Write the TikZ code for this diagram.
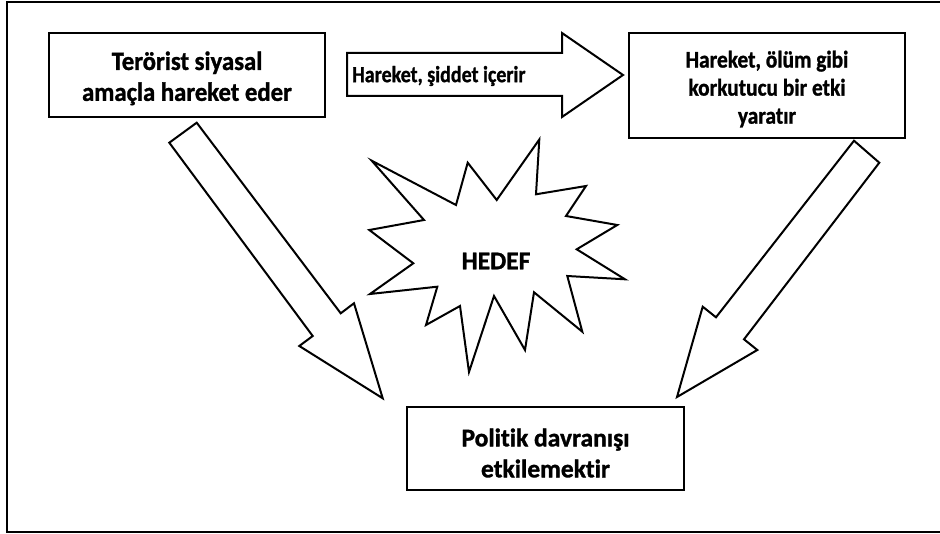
\documentclass[tikz,border=0pt]{standalone}
\usepackage{fontspec}
\usepackage{graphicx}
\setmainfont{Carlito}[RawFeature={-liga},BoldFeatures={FakeBold=1.2,RawFeature={-liga}}]
\begin{document}
\begin{tikzpicture}[x=1pt,y=-1pt,
  boxstyle/.style={draw,line width=2.6pt,fill=white,align=center,inner sep=0pt,
    font=\bfseries\fontsize{25.5}{31}\selectfont},
  shapeline/.style={draw,line width=2pt,line join=miter,fill=white},
  labelstyle/.style={inner sep=0pt,font=\bfseries\fontsize{25.5}{31}\selectfont}]
\useasboundingbox (0,0) rectangle (940,534);
\begin{scope}
\clip (0,0) rectangle (940,534);
\draw[line width=2.4pt] (7,2) rectangle (960,532);
\end{scope}
% boxes
\node[boxstyle,minimum width=276pt,minimum height=84pt] (b1) at (187,75) {};
\node[labelstyle,align=center] (t1) at (187,79) {\scalebox{0.97}[1.03]{\begin{tabular}{@{}c@{}}Terörist siyasal\\[-1pt]amaçla hareket eder\end{tabular}}};
\node[boxstyle,minimum width=276pt,minimum height=105pt] (b2) at (767,85.5) {};
\node[labelstyle,align=center,font=\bfseries\fontsize{23.5}{27.5}\selectfont] (t2) at (767,90) {\scalebox{0.91}[1.02]{\begin{tabular}{@{}c@{}}Hareket, ölüm gibi\\korkutucu bir etki\\yaratır\end{tabular}}};
\node[boxstyle,minimum width=277pt,minimum height=83pt] (b3) at (545.5,448.5) {};
\node[labelstyle,align=center] (t3) at (545.5,453) {Politik davranışı\\etkilemektir};
% top block arrow
\draw[shapeline] (347,53) -- (562,53) -- (562,33) -- (623,75) -- (562,117) -- (562,96) -- (347,96) -- cycle;
\node[inner sep=0pt,anchor=west] (ta) at (352,76) {\bfseries\fontsize{23}{27}\selectfont\scalebox{0.87}[1]{Hareket, şiddet içerir}};
% left diagonal block arrow
\draw[shapeline] (169.3,142.7) -- (196.7,122.7) -- (340.7,313.3) -- (354,303.3) -- (382.7,398.3) -- (299.3,346) -- (312.7,336) -- cycle;
% right diagonal block arrow
\draw[shapeline] (854,140.7) -- (879.3,162.7) -- (744,339.3) -- (757.3,350) -- (677,397) -- (702.7,306.7) -- (716,317.3) -- cycle;
% star
\draw[shapeline] (371.7,160.7) -- (456,205) -- (467.7,162.7) -- (496.7,200) -- (539.3,139.5) -- (536,194.3)
  -- (586,186) -- (566,216) -- (617.3,225) -- (576.7,249.3) -- (625,279.3) -- (567.3,276)
  -- (582.3,331.7) -- (534,292.3) -- (525,350) -- (494,296) -- (469,372) -- (460,306)
  -- (426,325) -- (437.3,286.7) -- (370,294) -- (413.3,263.3) -- (369.3,230) -- (424,220) -- cycle;
\node[labelstyle] (hd) at (496,261) {HEDEF};
\end{tikzpicture}
\end{document}
